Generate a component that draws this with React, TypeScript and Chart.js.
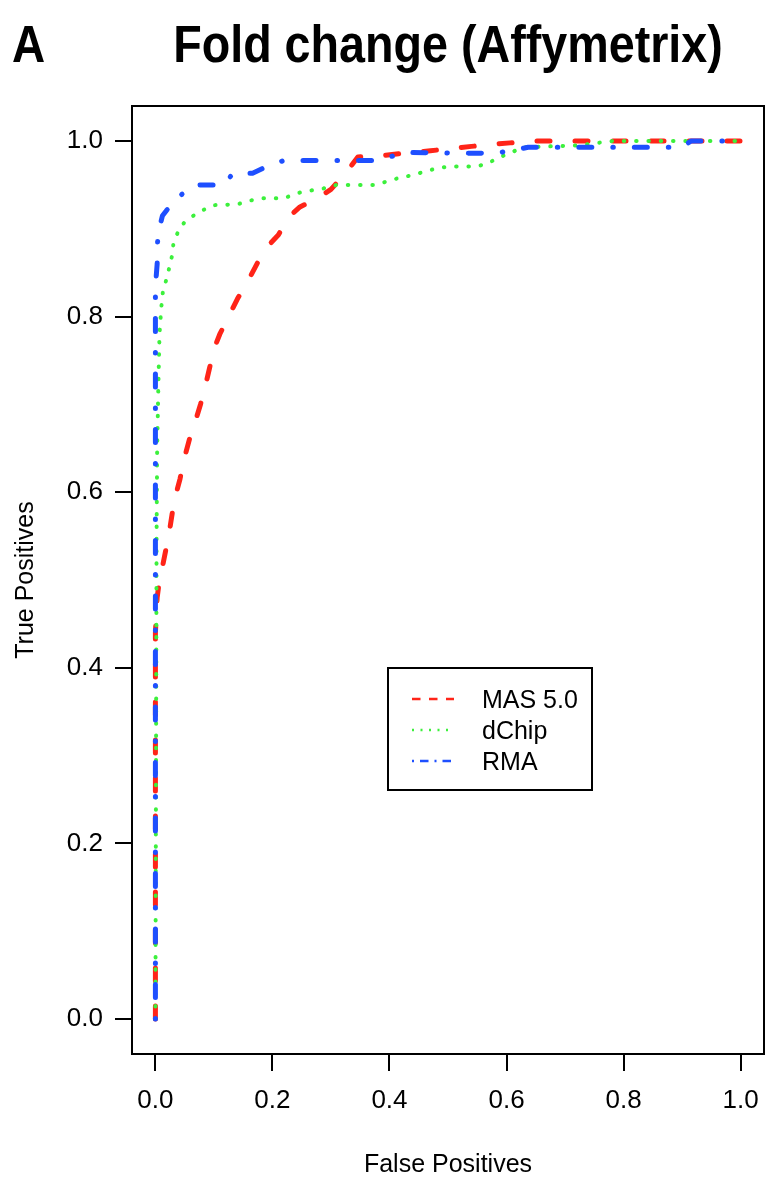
import React, { useEffect, useRef } from "react";
import { Chart, registerables } from "chart.js";

Chart.register(...registerables);

// ---- data ----
const titleText = "Fold change (Affymetrix)";
const panelLabel = "A";
const xAxisTitle = "False Positives";
const yAxisTitle = "True Positives";
const seriesNames = ["MAS 5.0", "dChip", "RMA"];
const seriesColors = ["#ff2418", "#3cf03c", "#1e4fff"];

const xTicks = [0, 0.2, 0.4, 0.6, 0.8, 1.0];
const yTicks = [0, 0.2, 0.4, 0.6, 0.8, 1.0];

const masX = [0, 0, 0.003, 0.007, 0.012, 0.018, 0.025, 0.032, 0.042, 0.05, 0.058, 0.068, 0.077, 0.085, 0.092, 0.1, 0.11, 0.125, 0.14, 0.16, 0.175, 0.19, 0.21, 0.227, 0.247, 0.28, 0.3, 0.328, 0.346, 0.38, 0.423, 0.47, 0.54, 0.606, 0.64, 1.0];
const masY = [0, 0.44, 0.48, 0.5, 0.515, 0.535, 0.56, 0.59, 0.615, 0.64, 0.66, 0.68, 0.7, 0.72, 0.74, 0.763, 0.78, 0.8, 0.82, 0.843, 0.862, 0.879, 0.893, 0.913, 0.925, 0.936, 0.945, 0.966, 0.982, 0.983, 0.986, 0.989, 0.994, 0.998, 1.0, 1.0];

const dchipX = [0, 0.002, 0.003, 0.005, 0.007, 0.01, 0.013, 0.02, 0.024, 0.029, 0.031, 0.039, 0.05, 0.065, 0.08, 0.099, 0.14, 0.16, 0.183, 0.22, 0.244, 0.268, 0.287, 0.309, 0.374, 0.396, 0.416, 0.438, 0.459, 0.48, 0.502, 0.546, 0.567, 0.585, 0.606, 0.626, 0.72, 0.756, 0.78, 1.0];
const dchipY = [0, 0.55, 0.65, 0.72, 0.78, 0.81, 0.83, 0.845, 0.857, 0.871, 0.885, 0.897, 0.908, 0.915, 0.921, 0.927, 0.928, 0.932, 0.935, 0.935, 0.941, 0.944, 0.946, 0.95, 0.95, 0.954, 0.958, 0.961, 0.965, 0.969, 0.971, 0.971, 0.974, 0.981, 0.986, 0.993, 0.995, 0.998, 1.0, 1.0];

const rmaX = [0, 0, 0.003, 0.004, 0.012, 0.019, 0.039, 0.063, 0.077, 0.116, 0.133, 0.166, 0.19, 0.22, 0.38, 0.4, 0.427, 0.58, 0.606, 0.637, 0.9, 0.915, 1.0];
const rmaY = [0, 0.834, 0.86, 0.893, 0.915, 0.921, 0.936, 0.949, 0.95, 0.95, 0.9635, 0.9635, 0.971, 0.978, 0.978, 0.982, 0.987, 0.986, 0.989, 0.993, 0.993, 1.0, 1.0];

const FONT = "'Liberation Sans', Arial, Helvetica, sans-serif";

const toPoints = (xs: number[], ys: number[]) => xs.map((x, i) => ({ x, y: ys[i] }));

const curveDash = [
  [13, 25],
  [0.5, 11.8],
  [0.5, 21, 13, 21],
];
const curveWidth = [5, 4, 5];
const legendDash = [
  [8.5, 8.5],
  [2, 6.5],
  [2, 6, 8.5, 6],
];

const decorPlugin = {
  id: "decor",
  afterDraw(chart: any) {
    const { ctx, chartArea } = chart;
    const { left, top, right, bottom } = chartArea;
    ctx.save();
    // frame
    ctx.strokeStyle = "#000";
    ctx.lineWidth = 2;
    ctx.setLineDash([]);
    ctx.strokeRect(left, top, right - left, bottom - top);

    ctx.fillStyle = "#000";
    // panel label
    ctx.save();
    ctx.font = `bold 51px ${FONT}`;
    ctx.textAlign = "left";
    ctx.textBaseline = "alphabetic";
    ctx.translate(12, 62);
    ctx.scale(0.9, 1);
    ctx.fillText(panelLabel, 0, 0);
    ctx.restore();

    // title
    ctx.save();
    ctx.font = `bold 51px ${FONT}`;
    ctx.textAlign = "center";
    ctx.textBaseline = "alphabetic";
    ctx.translate((left + right) / 2, 62);
    ctx.scale(0.915, 1);
    ctx.fillText(titleText, 0, 0);
    ctx.restore();

    // axis titles
    ctx.font = `25px ${FONT}`;
    ctx.textAlign = "center";
    ctx.textBaseline = "alphabetic";
    ctx.fillText(xAxisTitle, (left + right) / 2, 1172);
    ctx.save();
    ctx.translate(33, (top + bottom) / 2);
    ctx.rotate(-Math.PI / 2);
    ctx.fillText(yAxisTitle, 0, 0);
    ctx.restore();

    // legend
    const lx = 388, ly = 668, lw = 204, lh = 122;
    ctx.lineWidth = 2;
    ctx.strokeStyle = "#000";
    ctx.strokeRect(lx, ly, lw, lh);
    ctx.font = `25px ${FONT}`;
    ctx.textAlign = "left";
    seriesNames.forEach((name, i) => {
      const y = 699 + i * 31;
      ctx.save();
      ctx.strokeStyle = seriesColors[i];
      ctx.lineWidth = 2.5;
      ctx.lineCap = "butt";
      ctx.setLineDash(legendDash[i]);
      ctx.beginPath();
      ctx.moveTo(412, y);
      ctx.lineTo(454, y);
      ctx.stroke();
      ctx.restore();
      ctx.fillStyle = "#000";
      ctx.fillText(name, 482, y + 9);
    });
    ctx.restore();
  },
};

export default function App() {
  const ref = useRef<HTMLCanvasElement | null>(null);

  useEffect(() => {
    if (!ref.current) return;
    const series = [
      toPoints(masX, masY),
      toPoints(dchipX, dchipY),
      toPoints(rmaX, rmaY),
    ];
    const tickFont = { family: FONT, size: 26 };
    const chart = new Chart(ref.current, {
      type: "line",
      data: {
        datasets: series.map((pts, i) => ({
          label: seriesNames[i],
          data: pts,
          borderColor: seriesColors[i],
          backgroundColor: seriesColors[i],
          borderWidth: curveWidth[i],
          borderDash: curveDash[i],
          borderCapStyle: "round" as const,
          borderJoinStyle: "round" as const,
          pointRadius: 0,
          fill: false,
          tension: 0,
          order: 2 - i,
        })),
      },
      options: {
        responsive: false,
        animation: false,
        devicePixelRatio: 1,
        layout: { padding: { top: 106, right: 16, left: 0, bottom: 0 } },
        plugins: {
          legend: { display: false },
          tooltip: { enabled: false },
          title: { display: false },
        },
        events: [],
        scales: {
          x: {
            type: "linear",
            min: -0.04,
            max: 1.04,
            afterBuildTicks: (s: any) => {
              s.ticks = xTicks.map((v) => ({ value: v }));
            },
            afterFit: (s: any) => {
              s.height = 146;
            },
            ticks: {
              autoSkip: false,
              maxRotation: 0,
              color: "#000",
              font: tickFont,
              padding: 14,
              callback: (v: any) => Number(v).toFixed(1),
            },
            grid: {
              drawOnChartArea: false,
              drawTicks: true,
              tickLength: 17,
              color: "#000",
              lineWidth: 2,
            },
            border: { display: true, color: "#000", width: 2 },
          },
          y: {
            type: "linear",
            min: -0.04,
            max: 1.04,
            afterBuildTicks: (s: any) => {
              s.ticks = yTicks.map((v) => ({ value: v }));
            },
            afterFit: (s: any) => {
              s.width = 132;
            },
            ticks: {
              autoSkip: false,
              color: "#000",
              font: tickFont,
              padding: 12,
              callback: (v: any) => Number(v).toFixed(1),
            },
            grid: {
              drawOnChartArea: false,
              drawTicks: true,
              tickLength: 17,
              color: "#000",
              lineWidth: 2,
            },
            border: { display: true, color: "#000", width: 2 },
          },
        },
      },
      plugins: [decorPlugin],
    } as any);
    return () => chart.destroy();
  }, []);

  return (
    <div style={{ position: "fixed", left: 0, top: 0, width: 780, height: 1200, background: "#fff" }}>
      <canvas ref={ref} width={780} height={1200} style={{ display: "block", width: 780, height: 1200 }} />
    </div>
  );
}
